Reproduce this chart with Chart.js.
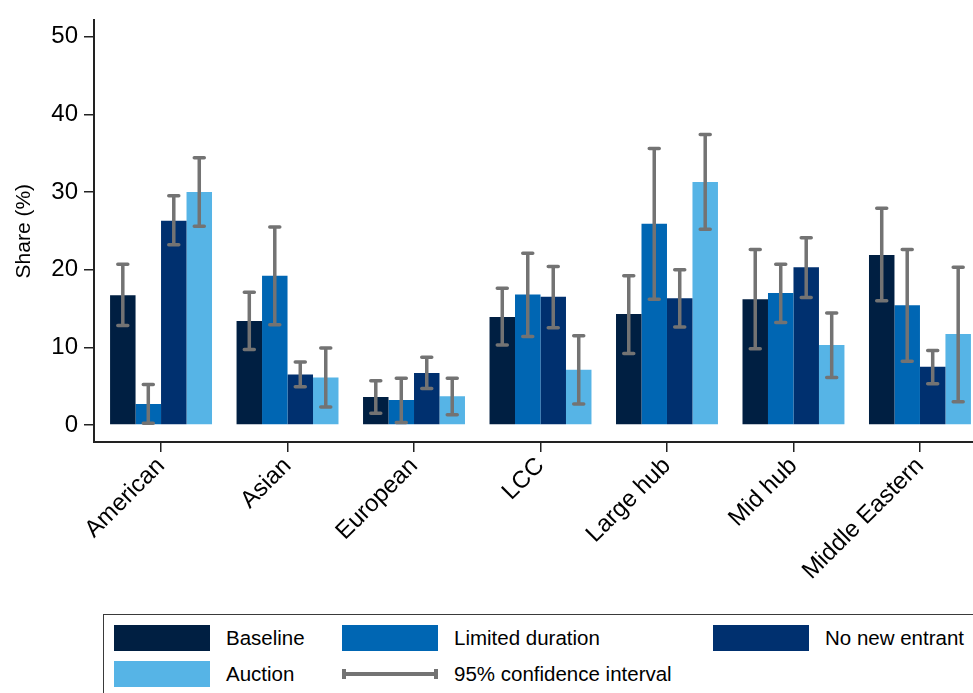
<!DOCTYPE html>
<html>
<head>
<meta charset="utf-8">
<script src="https://cdn.jsdelivr.net/npm/chart.js@4.4.0/dist/chart.umd.min.js"></script>
<style>
  html, body { margin: 0; padding: 0; background: #fff; width: 973px; height: 693px; overflow: hidden; }
  #wrap { position: absolute; left: 0; top: 0; width: 990px; height: 610px; }
  #legend {
    position: absolute; left: 103px; top: 614px; width: 920px; height: 100px;
    border: 1px solid #3a3a3a; box-sizing: border-box;
    font-family: "Liberation Sans", Arial, sans-serif; font-size: 20.5px; color: #000;
  }
  .item { position: absolute; display: flex; align-items: center; height: 26px; white-space: nowrap; }
  .sw { width: 96px; height: 26px; margin-right: 16px; }
  .ci { width: 96px; height: 26px; margin-right: 16px; position: relative; }
  .ci .bar { position: absolute; left: 0; right: 0; top: 11px; height: 4px; background: #737373; }
  .ci .cap { position: absolute; top: 8px; width: 4px; height: 10px; background: #737373; }
</style>
</head>
<body>
<div id="wrap"><canvas id="chart" width="990" height="610"></canvas></div>
<div id="legend"></div>
<script>
// ---- data ----
const categories = ['American', 'Asian', 'European', 'LCC', 'Large hub', 'Mid hub', 'Middle Eastern'];

const baseline   = [16.7, 13.4, 3.6, 13.9, 14.3, 16.2, 21.9];
const baselineLo = [12.8, 9.7, 1.5, 10.3, 9.2, 9.8, 16.0];
const baselineHi = [20.7, 17.1, 5.7, 17.6, 19.2, 22.6, 27.9];

const limited   = [2.7, 19.2, 3.2, 16.8, 25.9, 17.0, 15.4];
const limitedLo = [0.2, 12.9, 0.3, 11.4, 16.2, 13.2, 8.2];
const limitedHi = [5.2, 25.5, 6.0, 22.1, 35.6, 20.7, 22.6];

const noEntrant   = [26.3, 6.5, 6.7, 16.5, 16.3, 20.3, 7.5];
const noEntrantLo = [23.2, 4.9, 4.7, 12.5, 12.6, 16.4, 5.3];
const noEntrantHi = [29.5, 8.1, 8.7, 20.4, 20.0, 24.1, 9.6];

const auction   = [30.0, 6.1, 3.7, 7.1, 31.3, 10.3, 11.7];
const auctionLo = [25.6, 2.3, 1.3, 2.7, 25.2, 6.1, 3.0];
const auctionHi = [34.4, 9.9, 6.0, 11.5, 37.4, 14.4, 20.3];

const yTicks = [0, 10, 20, 30, 40, 50];

const FONT = '"Liberation Sans", Arial, sans-serif';
const CI_COLOR = '#737373';

function toPoints(vals) {
  return vals.map((v, i) => ({ x: i, y: v }));
}

// draws the 95% CI whiskers on top of each bar
const errorBars = {
  id: 'errorBars',
  afterDatasetsDraw(chart) {
    const { ctx, scales: { y } } = chart;
    ctx.save();
    ctx.strokeStyle = CI_COLOR;
    ctx.lineWidth = 3.5;
    ctx.lineCap = 'round';
    chart.data.datasets.forEach((ds, i) => {
      chart.getDatasetMeta(i).data.forEach((bar, j) => {
        const lo = y.getPixelForValue(ds.lo[j]);
        const hi = y.getPixelForValue(ds.hi[j]);
        ctx.beginPath();
        ctx.moveTo(bar.x, lo); ctx.lineTo(bar.x, hi);
        ctx.moveTo(bar.x - 5, lo); ctx.lineTo(bar.x + 5, lo);
        ctx.moveTo(bar.x - 5, hi); ctx.lineTo(bar.x + 5, hi);
        ctx.stroke();
      });
    });
    ctx.restore();
  }
};

const chart = new Chart(document.getElementById('chart'), {
  type: 'bar',
  data: {
    datasets: [
      { label: 'Baseline', data: toPoints(baseline), lo: baselineLo, hi: baselineHi, backgroundColor: '#001f42' },
      { label: 'Limited duration', data: toPoints(limited), lo: limitedLo, hi: limitedHi, backgroundColor: '#0066b3' },
      { label: 'No new entrant', data: toPoints(noEntrant), lo: noEntrantLo, hi: noEntrantHi, backgroundColor: '#00306f' },
      { label: 'Auction', data: toPoints(auction), lo: auctionLo, hi: auctionHi, backgroundColor: '#56b4e6' }
    ]
  },
  options: {
    responsive: false,
    devicePixelRatio: 1,
    animation: false,
    layout: { padding: { top: 13, right: 3, left: 0, bottom: 0 } },
    datasets: { bar: { categoryPercentage: 0.806, barPercentage: 1, borderWidth: 0 } },
    plugins: { legend: { display: false }, tooltip: { enabled: false } },
    scales: {
      x: {
        type: 'linear',
        offset: false,
        min: -0.53,
        max: 6.53,
        afterBuildTicks: s => { s.ticks = categories.map((c, i) => ({ value: i })); },
        afterFit: s => { s.height = 168; },
        grid: { display: true, offset: false, drawOnChartArea: false, tickLength: 10, color: '#222', lineWidth: 1.5 },
        border: { display: true, color: '#222', width: 2 },
        ticks: {
          autoSkip: false, minRotation: 45, maxRotation: 45, padding: 0,
          color: '#000', font: { family: FONT, size: 24 },
          callback: v => categories[v]
        }
      },
      y: {
        min: -2.2,
        max: 52.1,
        afterBuildTicks: s => { s.ticks = yTicks.map(v => ({ value: v })); },
        afterFit: s => { s.width = 94; },
        grid: { display: true, drawOnChartArea: false, tickLength: 10, color: '#222', lineWidth: 1.5 },
        border: { display: true, color: '#222', width: 2 },
        ticks: { padding: 6, color: '#000', font: { family: FONT, size: 24 } },
        title: { display: true, text: 'Share (%)', color: '#000', font: { family: FONT, size: 21 }, padding: { top: 12, bottom: 0 } }
      }
    }
  },
  plugins: [errorBars]
});

// legend below the plot, built from the datasets
const legend = document.getElementById('legend');
const slots = [[10, 10], [238, 10], [609, 10], [10, 46], [238, 46]];
chart.data.datasets.forEach((ds, i) => {
  const el = document.createElement('div');
  el.className = 'item';
  el.style.left = slots[i][0] + 'px';
  el.style.top = slots[i][1] + 'px';
  el.innerHTML = '<div class="sw" style="background:' + ds.backgroundColor + '"></div><span>' + ds.label + '</span>';
  legend.appendChild(el);
});
const ci = document.createElement('div');
ci.className = 'item';
ci.style.left = slots[4][0] + 'px';
ci.style.top = slots[4][1] + 'px';
ci.innerHTML = '<div class="ci"><div class="bar"></div><div class="cap" style="left:0"></div><div class="cap" style="right:0"></div></div><span>95% confidence interval</span>';
legend.appendChild(ci);
</script>
</body>
</html>
